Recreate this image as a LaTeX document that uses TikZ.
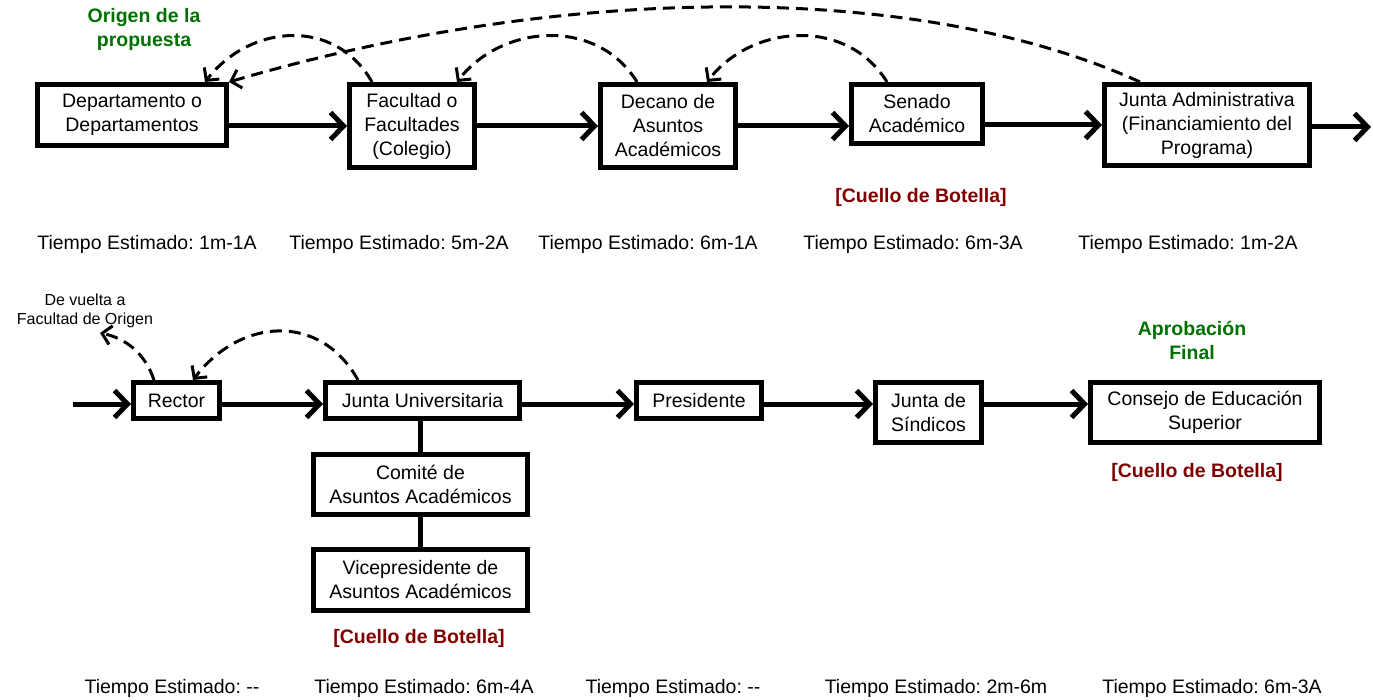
\documentclass[tikz,border=0pt]{standalone}
\usepackage{fontspec}
\setmainfont{Liberation Sans}
\usetikzlibrary{arrows.meta}
\definecolor{verdeorigen}{RGB}{0,112,0}
\definecolor{rojocuello}{RGB}{128,0,0}
\frenchspacing

\begin{document}
\begin{tikzpicture}[x=1pt, y=-1pt,
    bloque/.style ={draw, line width=5pt, align=center, inner sep=0pt, font=\fontsize{19.5}{24}\selectfont},
    flujo/.style ={line width=5pt, -{Straight Barb[length=13pt,width=27pt]}},
    retorno/.style ={line width=3pt, dash pattern=on 12pt off 7pt, -{Straight Barb[length=9pt,width=19pt]}},
    tiempo/.style ={font=\fontsize{19.5}{24}\selectfont},
    cuello/.style ={font=\fontsize{19.5}{24}\selectfont\bfseries, text=rojocuello},
    hito/.style ={align=center, font=\fontsize{19.5}{24}\selectfont\bfseries, text=verdeorigen}]
   \useasboundingbox (0,0) rectangle (1373,700);
   % primera fila
   \node[bloque, minimum width=189pt, minimum height=61pt] (dep) at (132,115) {Departamento o\\Departamentos};
   \node[bloque, minimum width=125pt, minimum height=83pt] (fac) at (412,126) {Facultad o\\Facultades\\(Colegio)};
   \node[bloque, minimum width=135pt, minimum height=83pt] (dec) at (668,126) {Decano de\\Asuntos\\Acad\'emicos};
   \node[bloque, minimum width=131pt, minimum height=59pt] (sen) at (917,114) {Senado\\Acad\'emico};
   \node[bloque, minimum width=205pt, minimum height=81pt] (jad) at (1207,125) {Junta Administrativa\\(Financiamiento del\\Programa)};
   \coordinate (sal1) at (1371,127);
   \draw[flujo] (dep.east |- fac.west) -- (fac.west);
   \draw[flujo] (fac.east) -- (dec.west);
   \draw[flujo] (dec.east) -- (dec.east -| sen.west);
   \draw[flujo] (sen.east |- jad.west) -- (jad.west);
   \draw[flujo] (jad.east |- sal1) -- (sal1);
   \draw[retorno] ([xshift=-40pt]fac.north) .. controls +(-37,-65) and +(45,-58) .. ([xshift=-24pt]dep.north east);
   \draw[retorno] ([xshift=-31pt]dec.north) .. controls +(-40,-65) and +(45,-58) .. ([xshift=-20pt]fac.north east);
   \draw[retorno] ([xshift=-30pt]sen.north) .. controls +(-40,-65) and +(45,-58) .. ([xshift=-31pt]dec.north east);
   \draw[retorno] ([xshift=38pt]jad.north west) .. controls +(-220,-100) and +(340,-100) .. (dep.north east);
   \node[hito] (origen) at (144,29) {Origen de la\\propuesta};
   \node[cuello] (c1) at (921,197) {[Cuello de Botella]};
   \node[tiempo] (t1) at (147,244) {Tiempo Estimado: 1m-1A};
   \node[tiempo] (t2) at (399,244) {Tiempo Estimado: 5m-2A};
   \node[tiempo] (t3) at (648,244) {Tiempo Estimado: 6m-1A};
   \node[tiempo] (t4) at (913,244) {Tiempo Estimado: 6m-3A};
   \node[tiempo] (t5) at (1188,244) {Tiempo Estimado: 1m-2A};
   % segunda fila
   \node[bloque, minimum width=86pt, minimum height=36pt] (rec) at (176.5,400.5) {Rector};
   \node[bloque, minimum width=194pt, minimum height=36pt] (ju) at (422.5,400.5) {Junta Universitaria};
   \node[bloque, minimum width=214pt, minimum height=60pt] (com) at (420.5,484.5) {Comit\'e de\\Asuntos Acad\'emicos};
   \node[bloque, minimum width=214pt, minimum height=61pt] (vic) at (420.5,580) {Vicepresidente de\\Asuntos Acad\'emicos};
   \node[bloque, minimum width=125pt, minimum height=36pt] (pre) at (699,400.5) {Presidente};
   \node[bloque, minimum width=106pt, minimum height=60pt] (js) at (928.5,412.5) {Junta de\\S\'indicos};
   \node[bloque, minimum width=229pt, minimum height=60pt] (cons) at (1205,412.5) {Consejo de Educaci\'on\\Superior};
   \coordinate (ent2) at (73,404);
   \coordinate (vuelta) at (100,333);
   \draw[flujo] (ent2) -- (ent2 -| rec.west);
   \draw[flujo] (rec.east |- ent2) -- (ju.west |- ent2);
   \draw[flujo] (ju.east |- ent2) -- (pre.west |- ent2);
   \draw[flujo] (pre.east |- ent2) -- (js.west |- ent2);
   \draw[flujo] (js.east |- ent2) -- (cons.west |- ent2);
   \draw[line width=5pt] (com.north) -- (com.north |- ju.south);
   \draw[line width=5pt] (com.south) -- (vic.north);
   \draw[retorno] ([xshift=35pt]ju.north west) .. controls +(-38,-68) and +(47,-62) .. ([xshift=-29pt]rec.north east);
   \draw[retorno] ([xshift=23pt]rec.north west) .. controls +(-9,-27) and +(25,5) .. (vuelta);
   \node[align=center, font=\fontsize{16}{18.5}\selectfont] (nota) at (85,311) {De vuelta a\\Facultad de Origen};
   \node[hito] (final) at (1192,340) {Aprobaci\'on\\Final};
   \node[cuello] (c3) at (1197,472) {[Cuello de Botella]};
   \node[cuello] (c2) at (419,638) {[Cuello de Botella]};
   \node[tiempo] (u1) at (172,688) {Tiempo Estimado: -{}-};
   \node[tiempo] (u2) at (424,688) {Tiempo Estimado: 6m-4A};
   \node[tiempo] (u3) at (673,688) {Tiempo Estimado: -{}-};
   \node[tiempo] (u4) at (936,688) {Tiempo Estimado: 2m-6m};
   \node[tiempo] (u5) at (1212,688) {Tiempo Estimado: 6m-3A};
 \end{tikzpicture}
\end{document}
